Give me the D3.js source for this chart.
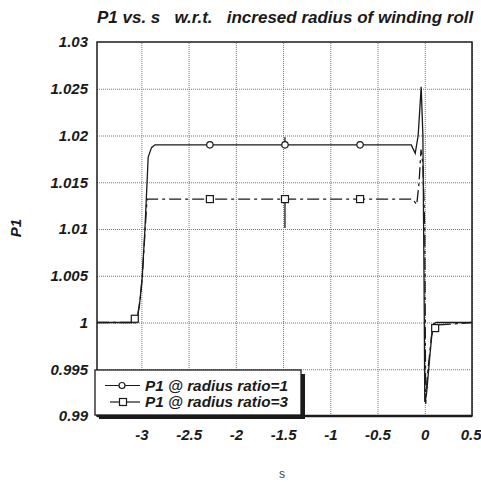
<!DOCTYPE html>
<html><head><meta charset="utf-8">
<script src="https://cdn.jsdelivr.net/npm/d3@7"></script>
<style>
html,body{margin:0;padding:0;background:#fff;}
svg{display:block;}
text{font-family:"Liberation Sans",Arial,sans-serif;}
</style></head>
<body>
<svg id="chart" width="481" height="482"></svg>
<script>
// ---- data ----
const xTicks = [-3, -2.5, -2, -1.5, -1, -0.5, 0, 0.5];
const xTickLabels = ["-3", "-2.5", "-2", "-1.5", "-1", "-0.5", "0", "0.5"];
const yTicks = [0.99, 0.995, 1, 1.005, 1.01, 1.015, 1.02, 1.025, 1.03];
const yTickLabels = ["0.99", "0.995", "1", "1.005", "1.01", "1.015", "1.02", "1.025", "1.03"];
const seriesNames = ["P1 @ radius ratio=1", "P1 @ radius ratio=3"];

const s1 = [-3.47, -3.10, -3.047, -3.015, -2.991, -2.963, -2.94, -2.928, -2.893, -2.857,
            -0.143, -0.101, -0.07, -0.038, -0.02, -0.008, 0.0, 0.02, 0.05, 0.085, 0.12, 0.5];
const p1 = [1.0, 1.0, 1.0002, 1.0024, 1.0049, 1.0099, 1.0150, 1.0177, 1.0187, 1.019,
            1.019, 1.0181, 1.0200, 1.0252, 1.0200, 1.005, 0.9915, 0.9925, 0.9960, 0.9998, 1.0, 1.0];

const s3 = [-3.47, -3.10, -3.047, -3.015, -2.991, -2.963, -2.945, -2.935,
            -0.13, -0.085, -0.06, -0.04, -0.02, 0.0, 0.005, 0.01, 0.03, 0.07, 0.10, 0.5];
const p3 = [1.0, 1.0, 1.0002, 1.0022, 1.0048, 1.0095, 1.0125, 1.0132,
            1.0132, 1.0126, 1.0150, 1.0185, 1.0170, 1.010, 1.0, 0.9913, 0.9945, 0.9985, 0.9997, 1.0];

const markerS = [-3.07, -2.275, -1.48, -0.685, 0.11];
const markerP1 = [1.0003, 1.019, 1.019, 1.019, 0.9994];
const markerP3 = [1.0004, 1.0132, 1.0132, 1.0132, 0.9994];

// small solid vertical strokes seen at s = -1.48 in the original
const cursorS = [-1.48, -1.48];
const cursorFrom = [1.019, 1.0132];
const cursorTo = [1.0198, 1.0101];

// ---- layout ----
const svg = d3.select("#chart");
const L = 97, R = 472, T = 42, B = 416;
const x = d3.scaleLinear().domain([-3.47, 0.5]).range([L, R]);
const y = d3.scaleLinear().domain([0.99, 1.03]).range([B, T]);
const ink = "#1a1a1a";
const FS = 15;

// grid
const gridX = svg.append("g").attr("transform", `translate(0,${B})`)
  .call(d3.axisBottom(x).tickValues(xTicks).tickSize(-(B - T)).tickFormat(""));
gridX.select(".domain").remove();
gridX.selectAll("line").attr("stroke", "#777").attr("stroke-width", 1).attr("stroke-dasharray", "1,1");

const gridY = svg.append("g").attr("transform", `translate(${L},0)`)
  .call(d3.axisLeft(y).tickValues(yTicks.slice(1, -1)).tickSize(-(R - L)).tickFormat(""));
gridY.select(".domain").remove();
gridY.selectAll("line").attr("stroke", "#777").attr("stroke-width", 1).attr("stroke-dasharray", "1,1");

// frame
svg.append("rect").attr("x", L).attr("y", T).attr("width", R - L).attr("height", B - T)
  .attr("fill", "none").attr("stroke", ink).attr("stroke-width", 1.5);
svg.append("line").attr("x1", L).attr("x2", R).attr("y1", B).attr("y2", B)
  .attr("stroke", ink).attr("stroke-width", 2.5);

// axes labels
const ax = svg.append("g").attr("transform", `translate(0,${B})`)
  .call(d3.axisBottom(x).tickValues(xTicks).tickSize(0).tickPadding(13)
    .tickFormat((d, i) => xTickLabels[i]));
ax.select(".domain").remove();
ax.selectAll("text").attr("font-size", FS).attr("font-weight", "bold").attr("font-style", "italic")
  .attr("fill", ink).attr("font-family", "Liberation Sans, Arial, sans-serif");
// last label sits at the right edge: keep it inside the picture
ax.selectAll("text").filter(d => d === 0.5).attr("text-anchor", "end").attr("dx", 9);

const ay = svg.append("g").attr("transform", `translate(${L},0)`)
  .call(d3.axisLeft(y).tickValues(yTicks).tickSize(0).tickPadding(9)
    .tickFormat((d, i) => yTickLabels[i]));
ay.select(".domain").remove();
ay.selectAll("text").attr("font-size", FS).attr("font-weight", "bold").attr("font-style", "italic")
  .attr("fill", ink).attr("font-family", "Liberation Sans, Arial, sans-serif");

// lines
const line = d3.line().x(d => x(d[0])).y(d => y(d[1]));
const d1 = s1.map((v, i) => [v, p1[i]]);
const d3s = s3.map((v, i) => [v, p3[i]]);
svg.append("clipPath").attr("id", "clip").append("rect")
  .attr("x", L).attr("y", T).attr("width", R - L).attr("height", B - T);
const plot = svg.append("g").attr("clip-path", "url(#clip)");

plot.append("path").datum(d3s).attr("d", line).attr("fill", "none")
  .attr("stroke", ink).attr("stroke-width", 1.3).attr("stroke-dasharray", "12,4,3,4");
plot.append("path").datum(d1).attr("d", line).attr("fill", "none")
  .attr("stroke", ink).attr("stroke-width", 1.3);

cursorS.forEach((v, i) => {
  plot.append("line").attr("x1", x(v)).attr("x2", x(v))
    .attr("y1", y(cursorFrom[i])).attr("y2", y(cursorTo[i]))
    .attr("stroke", ink).attr("stroke-width", 1.3);
});

// markers
markerS.forEach((v, i) => {
  plot.append("circle").attr("cx", x(v)).attr("cy", y(markerP1[i])).attr("r", 3.2)
    .attr("fill", "#fff").attr("stroke", ink).attr("stroke-width", 1.2);
  plot.append("rect").attr("x", x(v) - 3.5).attr("y", y(markerP3[i]) - 3.5)
    .attr("width", 7).attr("height", 7)
    .attr("fill", "#fff").attr("stroke", ink).attr("stroke-width", 1.2);
});

// legend
const lg = svg.append("g");
lg.append("rect").attr("x", 99).attr("y", 374).attr("width", 206).attr("height", 45).attr("fill", ink);
lg.append("rect").attr("x", 95).attr("y", 370).attr("width", 206).attr("height", 45)
  .attr("fill", "#fff").attr("stroke", ink).attr("stroke-width", 1.3);
const rows = [390.5, 407];
rows.forEach((ry, i) => {
  const ly = ry - 5;
  lg.append("line").attr("x1", i === 0 ? 105 : 110).attr("x2", 140).attr("y1", ly).attr("y2", ly)
    .attr("stroke", ink).attr("stroke-width", 1.2);
  if (i === 0) {
    lg.append("circle").attr("cx", 122).attr("cy", ly).attr("r", 3).attr("fill", "#fff")
      .attr("stroke", ink).attr("stroke-width", 1.2);
  } else {
    lg.append("rect").attr("x", 119.5).attr("y", ly - 3.5).attr("width", 7).attr("height", 7)
      .attr("fill", "#fff").attr("stroke", ink).attr("stroke-width", 1.2);
  }
  lg.append("text").attr("x", 145).attr("y", ry).text(seriesNames[i])
    .attr("font-size", 14).attr("font-weight", "bold").attr("font-style", "italic").attr("fill", ink)
    .attr("textLength", 143).attr("lengthAdjust", "spacingAndGlyphs");
});

// title & axis titles
svg.append("text").attr("x", 97).attr("y", 23).attr("font-size", 17)
  .attr("font-weight", "bold").attr("font-style", "italic").attr("fill", ink)
  .style("white-space", "pre")
  .text("P1 vs. s   w.r.t.   incresed radius of winding roll");

svg.append("text").attr("transform", "translate(21,228) rotate(-90)").attr("text-anchor", "middle")
  .attr("font-size", FS).attr("font-weight", "bold").attr("font-style", "italic").attr("fill", ink)
  .text("P1");

svg.append("text").attr("x", 282).attr("y", 478).attr("text-anchor", "middle")
  .attr("font-size", 12).attr("fill", "#444").text("s");
</script>
</body></html>
